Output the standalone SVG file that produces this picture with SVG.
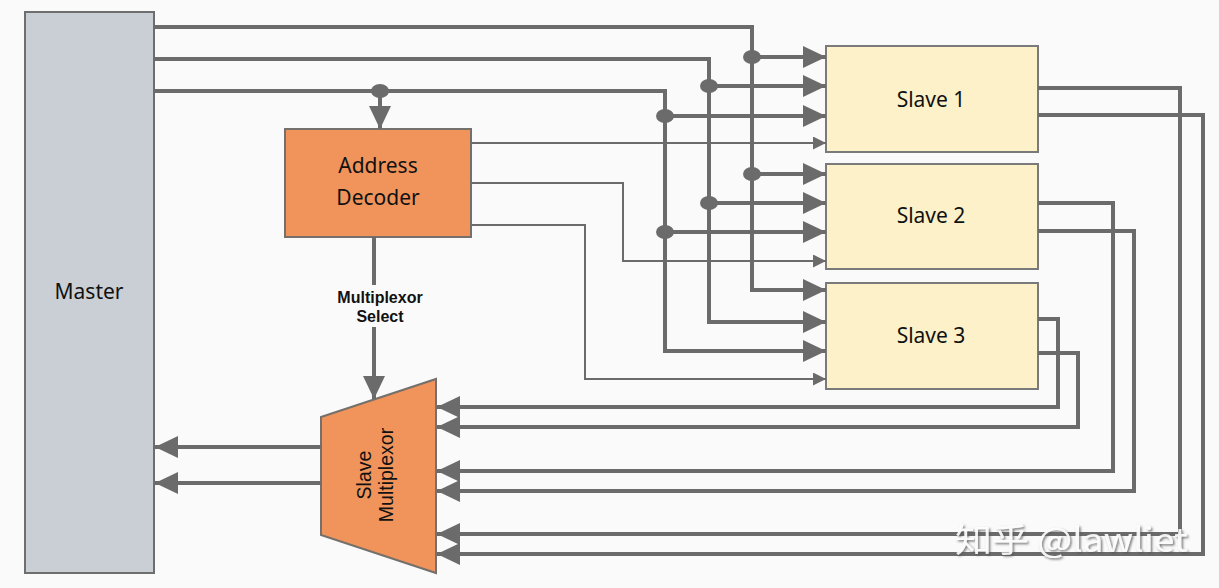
<svg xmlns="http://www.w3.org/2000/svg" width="1219" height="588" viewBox="0 0 1219 588">
  <style>
    .bus { fill: none; stroke: #6b6b6b; stroke-width: 4; }
    .thin { fill: none; stroke: #6b6b6b; stroke-width: 2; }
    .dot { fill: #6b6b6b; }
    .lbl { font-family: "Noto Sans", "Open Sans", sans-serif; font-size: 21px; fill: #111; text-anchor: middle; }
    .sel { font-family: "Liberation Sans", Arial, sans-serif; font-size: 16px; font-weight: bold; fill: #111; text-anchor: middle; }
    .mux { font-family: "Liberation Sans", Arial, sans-serif; font-size: 19.5px; fill: #111; text-anchor: middle; }
    .slave { fill: #fcf1c9; stroke: #7a7a7a; stroke-width: 2; }
    .orange { fill: #f0945c; stroke: #75706b; stroke-width: 2; }
  </style>
  <defs>
    <marker id="ah" markerUnits="userSpaceOnUse" markerWidth="23" markerHeight="22" viewBox="0 0 23 22" refX="23" refY="11" orient="auto">
      <path d="M0,0 L23,11 L0,22 z" fill="#6b6b6b"/>
    </marker>
    <marker id="ahs" markerUnits="userSpaceOnUse" markerWidth="13" markerHeight="13" viewBox="0 0 13 13" refX="13" refY="6.5" orient="auto">
      <path d="M0,0 L13,6.5 L0,13 z" fill="#6b6b6b"/>
    </marker>
    <filter id="wm" x="-10%" y="-30%" width="120%" height="160%">
      <feDropShadow dx="1.5" dy="1.5" stdDeviation="0.8" flood-color="#555" flood-opacity="0.9"/>
    </filter>
  </defs>
  <rect x="0" y="0" width="1219" height="588" fill="#fafafa"/>

  <g id="master">
    <rect x="25" y="12" width="129" height="561" fill="#c9cfd5" stroke="#6e6e6e" stroke-width="2"/>
    <text class="lbl" x="89" y="299">Master</text>
  </g>

  <g id="address-decoder">
    <rect class="orange" x="285" y="129" width="186" height="108"/>
    <text class="lbl" x="378" y="173">Address</text>
    <text class="lbl" x="378" y="205">Decoder</text>
  </g>

  <g id="slave1">
    <rect class="slave" x="826" y="46" width="212" height="106"/>
    <text class="lbl" x="931" y="107">Slave 1</text>
  </g>
  <g id="slave2">
    <rect class="slave" x="826" y="164" width="212" height="105"/>
    <text class="lbl" x="931" y="223">Slave 2</text>
  </g>
  <g id="slave3">
    <rect class="slave" x="826" y="283" width="212" height="106"/>
    <text class="lbl" x="931" y="343">Slave 3</text>
  </g>

  <g id="slave-multiplexor">
    <polygon class="orange" points="321,417 436,379 436,573 321,535"/>
    <text class="mux" x="375" y="471" transform="rotate(-90 375 475)">Slave</text>
    <text class="mux" x="375" y="493" transform="rotate(-90 375 475)">Multiplexor</text>
  </g>

  <g id="connectors">
    <!-- master bus 1 -->
    <path class="bus" d="M154,27 H752 V290 H826" marker-end="url(#ah)"/>
    <path class="bus" d="M752,57 H826" marker-end="url(#ah)"/>
    <path class="bus" d="M752,174 H826" marker-end="url(#ah)"/>
    <!-- master bus 2 -->
    <path class="bus" d="M154,59 H709 V322 H826" marker-end="url(#ah)"/>
    <path class="bus" d="M709,86 H826" marker-end="url(#ah)"/>
    <path class="bus" d="M709,203 H826" marker-end="url(#ah)"/>
    <!-- master bus 3 -->
    <path class="bus" d="M154,91 H665 V351 H826" marker-end="url(#ah)"/>
    <path class="bus" d="M665,116 H826" marker-end="url(#ah)"/>
    <path class="bus" d="M665,232 H826" marker-end="url(#ah)"/>
    <path class="bus" d="M380,91 V129" marker-end="url(#ah)"/>
    <!-- junction dots -->
    <ellipse class="dot" cx="752" cy="57" rx="9" ry="7"/>
    <ellipse class="dot" cx="752" cy="174" rx="9" ry="7"/>
    <ellipse class="dot" cx="709" cy="86" rx="9" ry="7"/>
    <ellipse class="dot" cx="709" cy="203" rx="9" ry="7"/>
    <ellipse class="dot" cx="665" cy="116" rx="9" ry="7"/>
    <ellipse class="dot" cx="665" cy="232" rx="9" ry="7"/>
    <ellipse class="dot" cx="380" cy="91" rx="9" ry="7"/>
    <!-- decoder selects -->
    <path class="thin" d="M471,143 H826" marker-end="url(#ahs)"/>
    <path class="thin" d="M471,183 H623 V261 H826" marker-end="url(#ahs)"/>
    <path class="thin" d="M471,225 H585 V379 H826" marker-end="url(#ahs)"/>
    <!-- multiplexor select -->
    <path class="bus" d="M374,237 V285"/>
    <path class="bus" d="M374,327 V399" marker-end="url(#ah)"/>
    <text class="sel" x="380" y="303">Multiplexor</text>
    <text class="sel" x="380" y="322">Select</text>
    <!-- slave returns -->
    <path class="bus" d="M1038,319 H1058 V407 H437" marker-end="url(#ah)"/>
    <path class="bus" d="M1038,353 H1078 V427 H437" marker-end="url(#ah)"/>
    <path class="bus" d="M1038,203 H1113 V471 H437" marker-end="url(#ah)"/>
    <path class="bus" d="M1038,231 H1134 V491 H437" marker-end="url(#ah)"/>
    <path class="bus" d="M1038,88 H1180 V534 H437" marker-end="url(#ah)"/>
    <path class="bus" d="M1038,115 H1203 V554 H437" marker-end="url(#ah)"/>
    <!-- mux to master -->
    <path class="bus" d="M321,447 H155" marker-end="url(#ah)"/>
    <path class="bus" d="M321,483 H155" marker-end="url(#ah)"/>
  </g>

  <text x="955" y="552" textLength="233" lengthAdjust="spacingAndGlyphs" font-family="Noto Sans CJK SC, Noto Sans, sans-serif" font-size="33" fill="#ffffff" fill-opacity="0.9" filter="url(#wm)">知乎 @lawliet</text>
</svg>
